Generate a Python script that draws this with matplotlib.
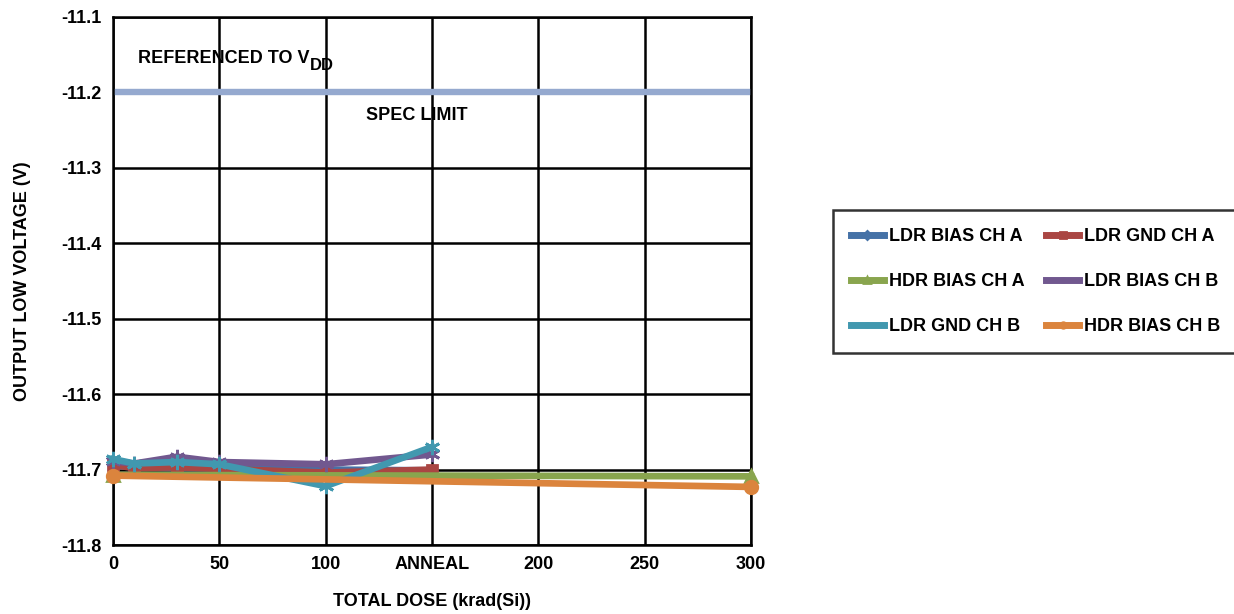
import matplotlib
matplotlib.use("Agg")
import matplotlib.pyplot as plt
from matplotlib.transforms import offset_copy

plt.rcParams["font.family"] = ["Liberation Sans", "DejaVu Sans"]
plt.rcParams["font.weight"] = "bold"

# dose points; ANNEAL is plotted at 150
dose_ldr = [0, 10, 30, 50, 100, 150]
dose_hdr = [0, 300]

ldr_bias_a = [-11.695, -11.697, -11.698, -11.698, -11.700, -11.701]
ldr_gnd_a = [-11.694, -11.698, -11.697, -11.699, -11.704, -11.700]
hdr_bias_a = [-11.707, -11.709]
ldr_bias_b = [-11.689, -11.692, -11.683, -11.690, -11.693, -11.680]
ldr_gnd_b = [-11.686, -11.692, -11.690, -11.693, -11.722, -11.670]
hdr_bias_b = [-11.708, -11.723]

spec_limit = -11.2

x_ticks = [0, 50, 100, 150, 200, 250, 300]
x_labels = ["0", "50", "100", "ANNEAL", "200", "250", "300"]
y_ticks = [-11.8, -11.7, -11.6, -11.5, -11.4, -11.3, -11.2, -11.1]

series = [
    ("LDR BIAS CH A", dose_ldr, ldr_bias_a, "#4572A7", "D", 4),
    ("LDR GND CH A", dose_ldr, ldr_gnd_a, "#AA4643", "s", 7),
    ("HDR BIAS CH A", dose_hdr, hdr_bias_a, "#89A54E", "^", 8),
    ("LDR BIAS CH B", dose_ldr, ldr_bias_b, "#71588F", (6, 2, 0), 11),
    ("LDR GND CH B", dose_ldr, ldr_gnd_b, "#4198AF", (6, 2, 0), 11),
    ("HDR BIAS CH B", dose_hdr, hdr_bias_b, "#DB843D", "o", 9),
]

fs = 13

fig = plt.figure(figsize=(12.34, 6.14), dpi=100)
ax = fig.add_axes([113 / 1234, 1 - 545 / 614, 638 / 1234, 528 / 614])

ax.axhline(spec_limit, color="#95A9CF", linewidth=4.6, zorder=2)

handles = []
for label, xs, ys, color, marker, ms in series:
    (h,) = ax.plot(xs, ys, color=color, linewidth=4.8, marker=marker,
                   markersize=ms, markeredgewidth=2, markeredgecolor=color,
                   label=label, zorder=3, clip_on=False)
    handles.append(h)

ax.set_xlim(0, 300)
ax.set_ylim(-11.8, -11.1)
ax.set_xticks(x_ticks)
ax.set_xticklabels(x_labels)
ax.set_yticks(y_ticks)
ax.set_yticklabels([f"{v:.1f}" for v in y_ticks])
ax.tick_params(length=0, labelsize=fs, pad=8)
ax.grid(True, color="black", linewidth=1.8)
ax.set_axisbelow(True)
for spine in ax.spines.values():
    spine.set_linewidth(1.8)

ax.set_xlabel("TOTAL DOSE (krad(Si))", fontsize=fs, fontweight="bold", labelpad=14)
ax.set_ylabel("OUTPUT LOW VOLTAGE (V)", fontsize=fs, fontweight="bold", labelpad=22)

# "REFERENCED TO V" with a DD subscript placed right after it
ref = ax.text(11.8, -11.155, "REFERENCED TO V", fontsize=fs,
              fontweight="bold", va="center")
fig.canvas.draw()
bb = ref.get_window_extent().transformed(ax.transData.inverted())
ax.text(bb.x1, -11.155, "DD", fontsize=fs - 1, fontweight="bold", va="center",
        transform=offset_copy(ax.transData, fig=fig, x=0, y=-5, units="points"))

ax.text(119, -11.23, "SPEC LIMIT", fontsize=fs, fontweight="bold", va="center")

# legend rows read across, so reorder for column-wise filling
order = [0, 2, 4, 1, 3, 5]
leg = fig.legend([handles[i] for i in order], [series[i][0] for i in order],
                 ncol=2, loc="upper left", bbox_to_anchor=(833 / 1234, 1 - 210 / 614),
                 frameon=True, fancybox=False, edgecolor="black", fontsize=fs,
                 handlelength=1.8, labelspacing=1.55, columnspacing=1.2,
                 borderpad=1.0, handletextpad=0.3, borderaxespad=0)
leg.get_frame().set_linewidth(1.8)
for h in leg.legend_handles:
    h.set_markersize(4)
    h.set_linewidth(5)

fig.savefig("out.png", dpi=100)
